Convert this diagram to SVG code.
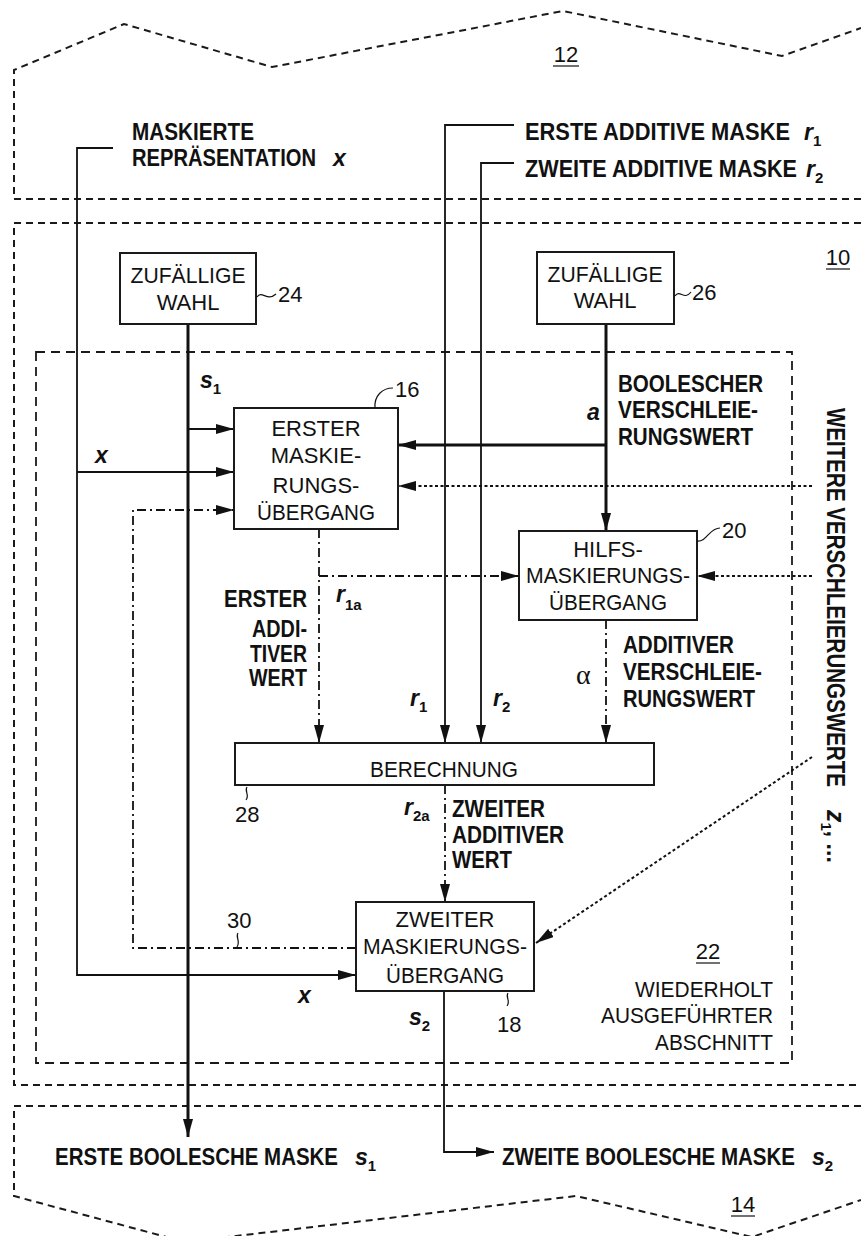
<svg xmlns="http://www.w3.org/2000/svg" width="861" height="1236" viewBox="0 0 861 1236">
<style>
.reg{fill:none;stroke:#1a1a1a;stroke-width:2;stroke-dasharray:7,5}
.reg22{fill:none;stroke:#1a1a1a;stroke-width:1.8;stroke-dasharray:9,6}
.box{fill:#fff;stroke:#1a1a1a;stroke-width:2}
.ln{fill:none;stroke:#111;stroke-width:1.8}
.thk{fill:none;stroke:#111;stroke-width:3}
.dd{fill:none;stroke:#111;stroke-width:1.8;stroke-dasharray:9,4,2,4}
.dot{fill:none;stroke:#111;stroke-width:2;stroke-dasharray:3,2.5}
.lead{fill:none;stroke:#111;stroke-width:1.2}
.t{font-family:"Liberation Sans",Arial,sans-serif;font-size:22px;fill:#111}
.c{text-anchor:middle}
.b{font-family:"Liberation Sans",Arial,sans-serif;font-size:23px;font-weight:bold;fill:#111}
.v{font-family:"Liberation Sans",Arial,sans-serif;font-size:23px;font-weight:bold;font-style:italic;fill:#111}
.sub{font-size:15px;font-weight:bold;font-style:normal}
.e{text-anchor:end}
</style>
<defs>
<marker id="ah" viewBox="0 0 18 10" refX="18" refY="5" markerWidth="18" markerHeight="10" markerUnits="userSpaceOnUse" orient="auto"><path d="M0,0 L18,5 L0,10 z" fill="#111"/></marker>
</defs>
<rect width="861" height="1236" fill="#fff"/>

<g id="region12">
<path class="reg" d="M861,199 H14 V70 L124,24 L272,67 L563,11 L782,56 L861,28"/>
<text class="t c" x="566" y="62">12</text>
<line class="lead" x1="553" y1="66" x2="579" y2="66"/>
<text class="b" x="132" y="140" textLength="122" lengthAdjust="spacingAndGlyphs">MASKIERTE</text>
<text class="b" x="132" y="166" textLength="184" lengthAdjust="spacingAndGlyphs">REPRÄSENTATION</text>
<text class="v" x="333" y="166">x</text>
<text class="b" x="525" y="140" textLength="265" lengthAdjust="spacingAndGlyphs">ERSTE ADDITIVE MASKE</text>
<text class="v" x="804" y="140">r<tspan class="sub" dy="6">1</tspan></text>
<text class="b" x="525" y="177" textLength="272" lengthAdjust="spacingAndGlyphs">ZWEITE ADDITIVE MASKE</text>
<text class="v" x="806" y="177">r<tspan class="sub" dy="6">2</tspan></text>
</g>

<g id="region10">
<path class="reg" d="M861,223 H14 V1085 H861"/>
<text class="t c" x="838" y="265">10</text>
<line class="lead" x1="826" y1="269" x2="850" y2="269"/>
</g>

<g id="region22">
<rect class="reg22" x="36" y="352" width="756" height="711"/>
<text class="t c" x="708" y="959">22</text>
<line class="lead" x1="696" y1="963" x2="720" y2="963"/>
<text class="t e" x="773" y="997" textLength="138" lengthAdjust="spacingAndGlyphs">WIEDERHOLT</text>
<text class="t e" x="773" y="1023" textLength="172" lengthAdjust="spacingAndGlyphs">AUSGEFÜHRTER</text>
<text class="t e" x="773" y="1050" textLength="118" lengthAdjust="spacingAndGlyphs">ABSCHNITT</text>
</g>

<g id="region14">
<path class="reg" d="M861,1106 H14 V1196 L185,1242 L576,1196 L752,1237 L861,1200"/>
<text class="t c" x="743" y="1212">14</text>
<line class="lead" x1="731" y1="1216" x2="755" y2="1216"/>
<text class="b" x="55" y="1165" textLength="283" lengthAdjust="spacingAndGlyphs">ERSTE BOOLESCHE MASKE</text>
<text class="v" x="355" y="1165">s<tspan class="sub" dy="6">1</tspan></text>
<text class="b" x="502" y="1165" textLength="293" lengthAdjust="spacingAndGlyphs">ZWEITE BOOLESCHE MASKE</text>
<text class="v" x="812" y="1165">s<tspan class="sub" dy="6">2</tspan></text>
</g>

<g id="connectors">
<path class="ln" d="M113,148 H77 V975 H356" marker-end="url(#ah)"/>
<path class="ln" d="M77,472 H234" marker-end="url(#ah)"/>
<path class="ln" d="M514,125 H445 V743" marker-end="url(#ah)"/>
<path class="ln" d="M514,163 H481 V743" marker-end="url(#ah)"/>
<path class="thk" d="M188,324 V1137" marker-end="url(#ah)"/>
<path class="ln" d="M188,429 H234" marker-end="url(#ah)"/>
<path class="thk" d="M606,324 V531" marker-end="url(#ah)"/>
<path class="thk" d="M606,445 H398" marker-end="url(#ah)"/>
<path class="dot" d="M812,486 H398" marker-end="url(#ah)"/>
<path class="dot" d="M812,576 H697" marker-end="url(#ah)"/>
<path class="dot" d="M812,757 L536,943" marker-end="url(#ah)"/>
<path class="dd" d="M319,529 V743" marker-end="url(#ah)"/>
<path class="dd" d="M319,576 H519" marker-end="url(#ah)"/>
<path class="dd" d="M606,620 V743" marker-end="url(#ah)"/>
<path class="dd" d="M445,785 V902" marker-end="url(#ah)"/>
<path class="dd" d="M356,948 H133 V510 H234" marker-end="url(#ah)"/>
<path class="ln" d="M444,991 V1152 H494" marker-end="url(#ah)"/>
</g>

<g id="labels">
<text class="v" x="200" y="388">s<tspan class="sub" dy="6">1</tspan></text>
<text class="v" x="95" y="463">x</text>
<text class="v" x="587" y="420">a</text>
<text class="b" x="618" y="392" textLength="145" lengthAdjust="spacingAndGlyphs">BOOLESCHER</text>
<text class="b" x="618" y="418" textLength="140" lengthAdjust="spacingAndGlyphs">VERSCHLEIE-</text>
<text class="b" x="618" y="445" textLength="135" lengthAdjust="spacingAndGlyphs">RUNGSWERT</text>
<text class="b e" x="307" y="607" textLength="83" lengthAdjust="spacingAndGlyphs">ERSTER</text>
<text class="b e" x="307" y="637" textLength="55" lengthAdjust="spacingAndGlyphs">ADDI-</text>
<text class="b e" x="307" y="662" textLength="57" lengthAdjust="spacingAndGlyphs">TIVER</text>
<text class="b e" x="307" y="686" textLength="58" lengthAdjust="spacingAndGlyphs">WERT</text>
<text class="v" x="336" y="602">r<tspan class="sub" dy="8">1a</tspan></text>
<text class="v" x="410" y="706">r<tspan class="sub" dy="6">1</tspan></text>
<text class="v" x="493" y="706">r<tspan class="sub" dy="6">2</tspan></text>
<text x="576" y="684" style="font-family:'Liberation Serif',serif;font-size:28px;fill:#111">α</text>
<text class="b" x="623" y="653" textLength="111" lengthAdjust="spacingAndGlyphs">ADDITIVER</text>
<text class="b" x="623" y="680" textLength="139" lengthAdjust="spacingAndGlyphs">VERSCHLEIE-</text>
<text class="b" x="623" y="707" textLength="132" lengthAdjust="spacingAndGlyphs">RUNGSWERT</text>
<text class="v" x="404" y="815">r<tspan class="sub" dy="6">2a</tspan></text>
<text class="b" x="452" y="817" textLength="93" lengthAdjust="spacingAndGlyphs">ZWEITER</text>
<text class="b" x="452" y="843" textLength="112" lengthAdjust="spacingAndGlyphs">ADDITIVER</text>
<text class="b" x="452" y="868" textLength="60" lengthAdjust="spacingAndGlyphs">WERT</text>
<text class="v" x="298" y="1003">x</text>
<text class="v" x="409" y="1025">s<tspan class="sub" dy="6">2</tspan></text>
<g transform="translate(827,408) rotate(90)">
<text class="b" x="0" y="0" style="font-size:26px" textLength="379" lengthAdjust="spacingAndGlyphs">WEITERE VERSCHLEIERUNGSWERTE</text>
<text class="v" x="402" y="0" style="font-size:25px">z<tspan class="sub" dy="6">1</tspan><tspan class="sub" dy="-6" style="font-size:23px">, ...</tspan></text>
</g>
</g>

<g id="n24">
<rect class="box" x="120" y="253" width="136" height="71"/>
<text class="t c" x="188" y="283" textLength="115" lengthAdjust="spacingAndGlyphs">ZUFÄLLIGE</text>
<text class="t c" x="188" y="310">WAHL</text>
<path class="lead" d="M257,297 C262,290 267,302 276,294"/>
<text class="t" x="278" y="302">24</text>
</g>

<g id="n26">
<rect class="box" x="537" y="252" width="137" height="72"/>
<text class="t c" x="605" y="282" textLength="115" lengthAdjust="spacingAndGlyphs">ZUFÄLLIGE</text>
<text class="t c" x="605" y="308">WAHL</text>
<path class="lead" d="M675,296 C680,289 684,301 691,292"/>
<text class="t" x="692" y="300">26</text>
</g>

<g id="n16">
<rect class="box" x="234" y="408" width="164" height="121"/>
<text class="t c" x="316" y="436">ERSTER</text>
<text class="t c" x="316" y="463">MASKIE-</text>
<text class="t c" x="316" y="493">RUNGS-</text>
<text class="t c" x="316" y="520" textLength="118" lengthAdjust="spacingAndGlyphs">ÜBERGANG</text>
<path class="lead" d="M375,408 C374,396 382,388 393,388"/>
<text class="t" x="395" y="397">16</text>
</g>

<g id="n20">
<rect class="box" x="519" y="531" width="178" height="89"/>
<text class="t c" x="608" y="557">HILFS-</text>
<text class="t c" x="608" y="583" textLength="164" lengthAdjust="spacingAndGlyphs">MASKIERUNGS-</text>
<text class="t c" x="608" y="610" textLength="118" lengthAdjust="spacingAndGlyphs">ÜBERGANG</text>
<path class="lead" d="M697,541 C707,542 709,528 720,528"/>
<text class="t" x="722" y="538">20</text>
</g>

<g id="n28">
<rect class="box" x="235" y="743" width="419" height="42"/>
<text class="t c" x="444" y="777" textLength="148" lengthAdjust="spacingAndGlyphs">BERECHNUNG</text>
<path class="lead" d="M247,787 C244,791 250,795 246,800"/>
<text class="t" x="235" y="822">28</text>
</g>

<g id="n18">
<rect class="box" x="356" y="902" width="178" height="89"/>
<text class="t c" x="445" y="927">ZWEITER</text>
<text class="t c" x="445" y="954" textLength="164" lengthAdjust="spacingAndGlyphs">MASKIERUNGS-</text>
<text class="t c" x="445" y="983" textLength="118" lengthAdjust="spacingAndGlyphs">ÜBERGANG</text>
<path class="lead" d="M508,993 C505,997 511,1001 507,1006"/>
<text class="t" x="497" y="1032">18</text>
</g>

<g id="n30">
<text class="t" x="227" y="928">30</text>
<path class="lead" d="M238,933 C235,937 241,941 237,947"/>
</g>
</svg>
